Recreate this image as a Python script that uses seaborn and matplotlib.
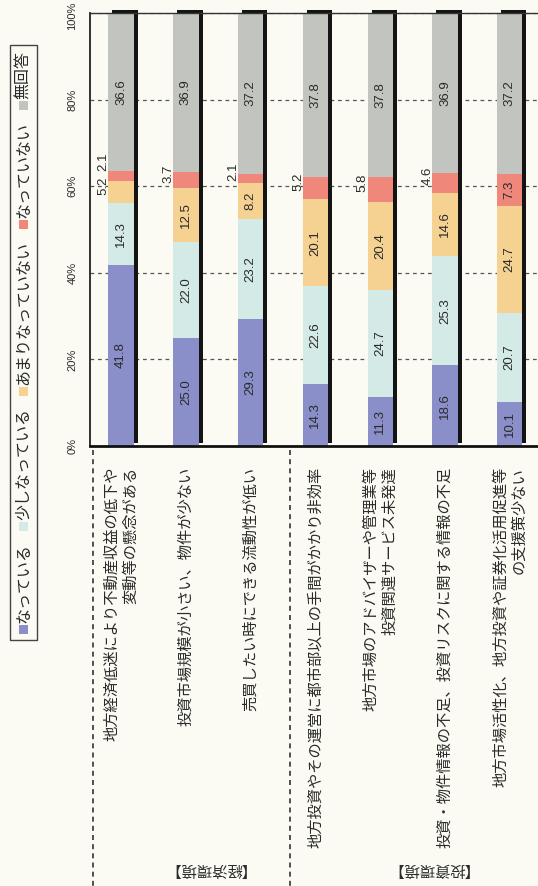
import numpy as np
import pandas as pd
import matplotlib
matplotlib.use("Agg")
import matplotlib.pyplot as plt
from matplotlib import font_manager as fm
from matplotlib.transforms import ScaledTranslation, IdentityTransform, blended_transform_factory
from matplotlib.patches import Rectangle
from matplotlib.lines import Line2D
import seaborn as sns

# ---- data -------------------------------------------------------------
categories = [
    "地方経済低迷により不動産収益の低下や\n変動等の懸念がある",
    "投資市場規模が小さい、物件が少ない",
    "売買したい時にできる流動性が低い",
    "地方投資やその運営に都市部以上の手間がかかり非効率",
    "地方市場のアドバイザーや管理業等\n投資関連サービス未発達",
    "投資・物件情報の不足、投資リスクに関する情報の不足",
    "地方市場活性化、地方投資や証券化活用促進等\nの支援策少ない",
]
groups = ["【経済環境】", "【投資環境】"]
group_sizes = [3, 4]

series = ["なっている", "少しなっている", "あまりなっていない", "なっていない", "無回答"]
natteiru = [41.8, 25.0, 29.3, 14.3, 11.3, 18.6, 10.1]
sukoshi = [14.3, 22.0, 23.2, 22.6, 24.7, 25.3, 20.7]
amari = [5.2, 12.5, 8.2, 20.1, 20.4, 14.6, 24.7]
natteinai = [2.1, 3.7, 2.1, 5.2, 5.8, 4.6, 7.3]
mukaito = [36.6, 36.9, 37.2, 37.8, 37.8, 36.9, 37.2]

tick_values = [0, 20, 40, 60, 80, 100]
tick_labels = ["0%", "20%", "40%", "60%", "80%", "100%"]

colors = ["#8b8fc9", "#d3eae6", "#f6d292", "#ef877b", "#c2c4bf"]

# ---- style ------------------------------------------------------------
BG = "#fbfbf4"
INK = "#2a2a2a"
W, H, DPI = 538, 886, 100

sns.set_theme(style="white")
plt.rcParams["font.family"] = ["Noto Sans CJK JP", "DejaVu Sans"]
plt.rcParams["text.color"] = INK

available = {f.name for f in fm.fontManager.ttflist}
narrow = next((n for n in ["Liberation Sans Narrow", "Liberation Sans"] if n in available), "DejaVu Sans")
num_font = ["Liberation Sans", "DejaVu Sans"] if "Liberation Sans" in available else ["DejaVu Sans"]

fig = plt.figure(figsize=(W / DPI, H / DPI), dpi=DPI, facecolor=BG)
ax = fig.add_axes([90 / W, 1 - 446 / H, (548 - 90) / W, (446 - 13) / H])
ax.set_facecolor(BG)

values = np.array([natteiru, sukoshi, amari, natteinai, mukaito])
cum = values.cumsum(axis=0)
bar_width = 0.39

# drop shadow behind each bar
n0 = len(ax.patches)
sns.barplot(x=categories, y=cum[-1], order=categories, color="#141414", width=bar_width,
            saturation=1, errorbar=None, ax=ax, zorder=1.5, linewidth=0)
shift = ScaledTranslation(4 / DPI, 3 / DPI, fig.dpi_scale_trans)
for p in ax.patches[n0:]:
    p.set_transform(ax.transData + shift)
    p.set_clip_on(False)

# stacked segments, drawn as overlapping cumulative bars
for k in range(len(series) - 1, -1, -1):
    sns.barplot(x=categories, y=cum[k], order=categories, color=colors[k], width=bar_width,
                saturation=1, errorbar=None, ax=ax, zorder=2, linewidth=0)

ax.set_xlim(-0.48, 6.59)
ax.set_ylim(0, 100)

# value labels
for i in range(len(categories)):
    prev_out = None
    for k in range(len(series)):
        v = values[k, i]
        center = cum[k, i] - v / 2
        if v >= 7:
            ax.text(i, center, f"{v:.1f}", rotation=90, ha="center", va="center",
                    fontsize=9.5, family=num_font, color=INK, zorder=5)
        else:
            y = center + 1.5
            if prev_out is not None and y - prev_out < 5:
                y = prev_out + 5.5
            prev_out = y
            ax.text(i - 0.27, y, f"{v:.1f}", rotation=90, ha="center", va="center",
                    fontsize=9.5, family=num_font, color=INK, zorder=5)

# axes, grid, ticks
ax.set_axisbelow(True)
ax.yaxis.grid(True, linestyle=(0, (3, 3)), color="#555555", linewidth=0.9, zorder=0)
ax.xaxis.grid(False)
ax.spines["right"].set_visible(False)
ax.spines["top"].set_color("#333333")
ax.spines["top"].set_linewidth(1.0)
ax.spines["bottom"].set_color("#111111")
ax.spines["bottom"].set_linewidth(2.0)
ax.spines["left"].set_color("#222222")
ax.spines["left"].set_linewidth(1.3)

ax.tick_params(axis="y", length=0, pad=9)
ax.set_yticks(tick_values)
ax.set_yticklabels(tick_labels, rotation=90, va="center", ha="right",
                   fontsize=8, family=[narrow, "DejaVu Sans"], color=INK)
# the top label sits at the page edge: nudge it just inside
top_label = ax.get_yticklabels()[-1]
top_label.set_transform(top_label.get_transform()
                        + ScaledTranslation(0, -2.5 / DPI, fig.dpi_scale_trans))

ax.set_xticks(range(len(categories)))
ax.set_xticklabels(categories, rotation=90, va="top", ha="center", multialignment="right",
                   linespacing=1.15, fontsize=11, color=INK)
ax.tick_params(axis="x", length=0, pad=15)
ax.set_xlabel("")
ax.set_ylabel("")

# dashed separators of the item groups
sep_x = [-0.43]
pos = -0.5
for n in group_sizes[:-1]:
    pos += n
    sep_x.append(pos + 0.1)
xf = blended_transform_factory(ax.transData, fig.transFigure)
for x in sep_x:
    ax.add_line(Line2D([x, x], [1 - 450 / H, 0], transform=xf, color="#333333",
                       linestyle=(0, (3, 2.5)), linewidth=1.2, clip_on=False))
bounds = sep_x + [6.43]
for g, name in enumerate(groups):
    ax.text((bounds[g] + bounds[g + 1]) / 2, 1 - 869 / H, name, transform=xf,
            rotation=180, ha="center", va="center", fontsize=11,
            color=INK, clip_on=False)

# legend, written sideways from bottom to top
renderer = fig.canvas.get_renderer()
px = IdentityTransform()
cx = 23.5
y = H - 634
y_start = y
for k, name in enumerate(series):
    fig.patches.append(Rectangle((cx - 4.5, y), 9, 9, transform=px, facecolor=colors[k],
                                 edgecolor="none"))
    t = fig.text(cx, y + 11, name, transform=px, rotation=90, ha="center", va="bottom",
                 fontsize=11.5, color=INK)
    bb = t.get_window_extent(renderer)
    y = bb.y1 + 12
y_end = y - 12
fig.patches.append(Rectangle((10, y_start - 6), 27, (y_end - y_start) + 12, transform=px,
                             facecolor="none", edgecolor="#444444", linewidth=1.0))

fig.savefig("out.png", dpi=DPI, facecolor=BG)
